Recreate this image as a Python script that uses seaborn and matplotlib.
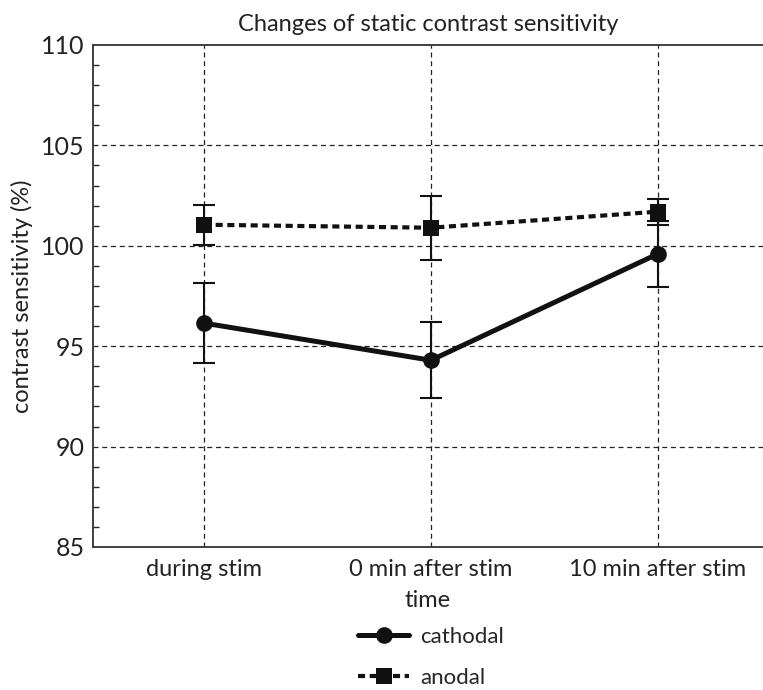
import matplotlib
matplotlib.use("Agg")
import matplotlib.pyplot as plt
import seaborn as sns
import pandas as pd
from matplotlib.ticker import MultipleLocator

sns.set_style("white")
plt.rcParams['font.family'] = ['Lato', 'DejaVu Sans']

times = ["during stim", "0 min after stim", "10 min after stim"]
cathodal_mean = [96.15, 94.3, 99.6]
cathodal_err = [2.0, 1.9, 1.65]
anodal_mean = [101.05, 100.9, 101.7]
anodal_err = [1.0, 1.6, 0.65]

df = pd.DataFrame({
    "time": times * 2,
    "value": cathodal_mean + anodal_mean,
    "group": ["cathodal"] * 3 + ["anodal"] * 3,
})

fig = plt.figure(figsize=(7.63, 6.9), dpi=100)
ax = fig.add_axes([93 / 763, 1 - 547 / 690, (763 - 93) / 763, (547 - 45) / 690])

sns.lineplot(data=df[df.group == "cathodal"], x="time", y="value", ax=ax,
             color="#111111", lw=3.6, marker="o", markersize=12,
             markeredgewidth=0, label="cathodal", zorder=4)
sns.lineplot(data=df[df.group == "anodal"], x="time", y="value", ax=ax,
             color="#111111", lw=3.0, marker="s", markersize=12,
             markeredgewidth=0, label="anodal", zorder=4,
             linestyle=(0, (1.7, 1.1)))
for line in ax.lines:
    line.set_dash_capstyle("butt")

ax.errorbar(times, cathodal_mean, yerr=cathodal_err, fmt="none",
            ecolor="#111111", elinewidth=1.5, capsize=8, capthick=1.5, zorder=3)
ax.errorbar(times, anodal_mean, yerr=anodal_err, fmt="none",
            ecolor="#111111", elinewidth=1.5, capsize=8, capthick=1.5, zorder=3)

ax.set_xlim(-0.489, 2.463)
ax.set_ylim(85, 110)
ax.yaxis.set_major_locator(MultipleLocator(5))
ax.yaxis.set_minor_locator(MultipleLocator(1))
ax.tick_params(axis="y", which="major", direction="in", length=0, labelsize=18, pad=6, colors="#222222")
ax.tick_params(axis="y", which="minor", direction="in", length=4, width=1, left=True)
ax.tick_params(axis="x", which="major", length=0, labelsize=17, pad=9, colors="#222222")

for yv in [90, 95, 100, 105]:
    ax.axhline(yv, color="#222222", lw=0.9, ls=(0, (4, 3)), zorder=1)
for xv in range(3):
    ax.axvline(xv, color="#222222", lw=0.9, ls=(0, (4, 3)), zorder=1)

for s in ["top", "left", "bottom"]:
    ax.spines[s].set_color("#333333")
    ax.spines[s].set_linewidth(1.3)
ax.spines["right"].set_visible(False)

ax.set_xlabel("time", fontsize=17, color="#222222", labelpad=7)
ax.set_ylabel("contrast sensitivity (%)", fontsize=17, color="#222222", labelpad=6)
ax.set_title("Changes of static contrast sensitivity", fontsize=17, color="#222222", pad=10)

leg = ax.legend(loc="upper center", bbox_to_anchor=(0.505, -0.137), frameon=False,
                fontsize=16, labelspacing=0.95, handlelength=2.3, handletextpad=0.5,
                borderpad=0.0)

fig.savefig("out.png", dpi=100)
